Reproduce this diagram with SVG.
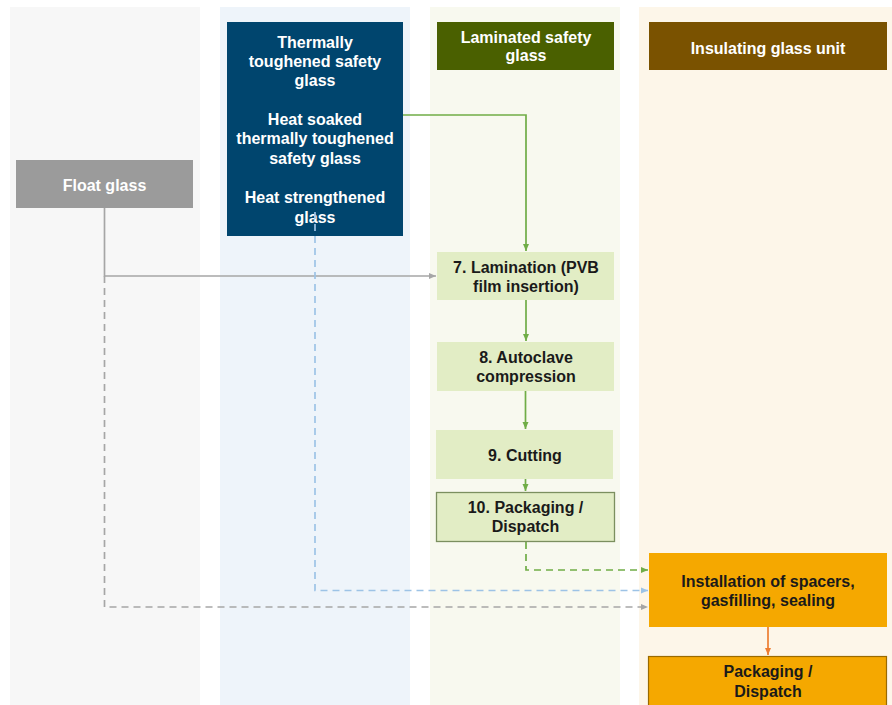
<svg xmlns="http://www.w3.org/2000/svg" width="892" height="705" viewBox="0 0 892 705">
<style>
  text { font-family: "Liberation Sans", Arial, sans-serif; font-weight: bold; font-size: 16px; text-anchor: middle; }
  .w { fill: #ffffff; }
  .d { fill: #1a1a1a; }
  .step { fill: #e2edc5; }
  .ln { fill: none; stroke-width: 1.7; }
</style>
<defs>
  <marker id="agreen" markerUnits="userSpaceOnUse" markerWidth="8" markerHeight="8" refX="7" refY="4" orient="auto"><path d="M0,1 L7,4 L0,7 z" fill="#70ad47"/></marker>
  <marker id="agrey" markerUnits="userSpaceOnUse" markerWidth="8" markerHeight="8" refX="7" refY="4" orient="auto"><path d="M0,1 L7,4 L0,7 z" fill="#a6a6a6"/></marker>
  <marker id="ablue" markerUnits="userSpaceOnUse" markerWidth="8" markerHeight="8" refX="7" refY="4" orient="auto"><path d="M0,1 L7,4 L0,7 z" fill="#9dc3e6"/></marker>
  <marker id="aorange" markerUnits="userSpaceOnUse" markerWidth="8" markerHeight="8" refX="7" refY="4" orient="auto"><path d="M0,1 L7,4 L0,7 z" fill="#ed7d31"/></marker>
</defs>
<rect width="892" height="705" fill="#ffffff"/>
<g id="lanes">
  <rect x="10" y="7" width="190" height="698" fill="#f7f7f7"/>
  <rect x="220" y="7" width="190" height="698" fill="#eef4fa"/>
  <rect x="430" y="7" width="190" height="698" fill="#f8f9ef"/>
  <rect x="639" y="7" width="253" height="698" fill="#fdf6e9"/>
</g>
<g id="float-glass">
  <rect x="16" y="160" width="177" height="48" fill="#9b9b9b"/>
  <text x="104.5" y="190.5" class="w">Float glass</text>
</g>
<g id="toughened">
  <rect x="227" y="22" width="176" height="214" fill="#00456e"/>
  <text x="315" y="47.5" class="w">Thermally</text>
  <text x="315" y="67" class="w">toughened safety</text>
  <text x="315" y="86" class="w">glass</text>
  <text x="315" y="124.5" class="w">Heat soaked</text>
  <text x="315" y="144" class="w">thermally toughened</text>
  <text x="315" y="163.5" class="w">safety glass</text>
  <text x="315" y="202.5" class="w">Heat strengthened</text>
  <text x="315" y="222.5" class="w">glass</text>
</g>
<g id="laminated-header">
  <rect x="437" y="22" width="177" height="48" fill="#4a6000"/>
  <text x="526" y="42.5" class="w">Laminated safety</text>
  <text x="526" y="61" class="w">glass</text>
</g>
<g id="igu-header">
  <rect x="649" y="22" width="238" height="48" fill="#7a5200"/>
  <text x="768" y="53.5" class="w">Insulating glass unit</text>
</g>
<g id="connectors">
  <polyline class="ln" points="403,115 526,115 526,251" stroke="#70ad47" marker-end="url(#agreen)"/>
  <polyline class="ln" points="104.5,208 104.5,276 436,276" stroke="#a6a6a6" marker-end="url(#agrey)"/>
  <line class="ln" x1="526" y1="300" x2="526" y2="341" stroke="#70ad47" marker-end="url(#agreen)"/>
  <line class="ln" x1="525.5" y1="391" x2="525.5" y2="429" stroke="#70ad47" marker-end="url(#agreen)"/>
  <line class="ln" x1="525.5" y1="479" x2="525.5" y2="491" stroke="#70ad47" marker-end="url(#agreen)"/>
  <polyline class="ln" points="526,542 526,570 648,570" stroke="#70ad47" stroke-dasharray="7,5" marker-end="url(#agreen)"/>
  <polyline class="ln" points="315,212 315,590.5 648,590.5" stroke="#9dc3e6" stroke-dasharray="7,5" marker-end="url(#ablue)"/>
  <polyline class="ln" points="104.5,276 104.5,607 648,607" stroke="#a6a6a6" stroke-dasharray="7,5" marker-end="url(#agrey)"/>
  <line class="ln" x1="768" y1="627" x2="768" y2="655" stroke="#ed7d31" marker-end="url(#aorange)"/>
</g>
<g id="step7">
  <rect x="437" y="252" width="177" height="48" class="step"/>
  <text x="526" y="272.5" class="d">7. Lamination (PVB</text>
  <text x="526" y="292" class="d">film insertion)</text>
</g>
<g id="step8">
  <rect x="437" y="342" width="177" height="49" class="step"/>
  <text x="526" y="362.5" class="d">8. Autoclave</text>
  <text x="526" y="382" class="d">compression</text>
</g>
<g id="step9">
  <rect x="436" y="430" width="177" height="49" class="step"/>
  <text x="525" y="460.5" class="d">9. Cutting</text>
</g>
<g id="step10">
  <rect x="436.5" y="492.5" width="178" height="49" class="step" stroke="#7b8f5f" stroke-width="1.3"/>
  <text x="525.5" y="512.5" class="d">10. Packaging /</text>
  <text x="525.5" y="532" class="d">Dispatch</text>
</g>
<g id="installation">
  <rect x="649" y="553" width="238" height="74" fill="#f5a800"/>
  <text x="768" y="586.5" class="d">Installation of spacers,</text>
  <text x="768" y="606" class="d">gasfilling, sealing</text>
</g>
<g id="igu-packaging">
  <rect x="648.5" y="656.5" width="238" height="52" fill="#f5a800" stroke="#9a6a00" stroke-width="1.2"/>
  <text x="768" y="676.5" class="d">Packaging /</text>
  <text x="768" y="696.5" class="d">Dispatch</text>
</g>
</svg>
